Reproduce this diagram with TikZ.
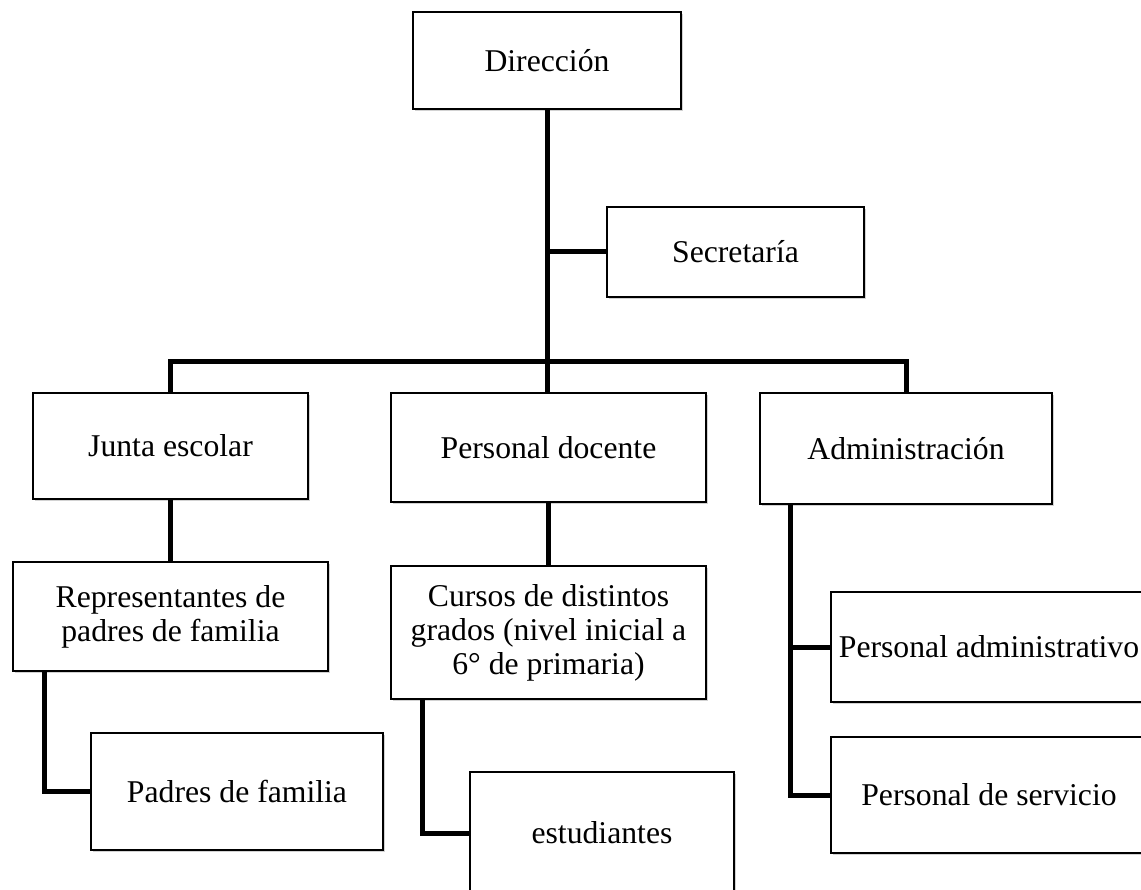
\documentclass[tikz,border=0pt]{standalone}
\usepackage{fontspec}
\setmainfont{Liberation Serif}
\usetikzlibrary{calc,shadows}
\tikzset{
  box/.style={draw=black, line width=1.5pt, fill=white, inner sep=0pt, align=center,
    font=\fontsize{31.7}{34}\selectfont,
    drop shadow={shadow xshift=1.5pt, shadow yshift=-2pt, opacity=0.35, fill=gray}},
  conn/.style={line width=5pt, black}
}
\begin{document}
\begin{tikzpicture}[x=1pt,y=-1pt]
\useasboundingbox (0,0) rectangle (1141,890);
\clip (0,0) rectangle (1141,890);
\fill[white] (0,0) rectangle (1141,890);
% boxes
\node[box, minimum width=268pt, minimum height=97pt] (dir) at (547,60.5) {Dirección};
\node[box, minimum width=257pt, minimum height=90pt] (sec) at (735.5,252) {Secretaría};
\node[box, minimum width=275pt, minimum height=106pt] (junta) at (170.5,446) {Junta escolar};
\node[box, minimum width=315pt, minimum height=109pt] (doc) at (548.5,447.5) {Personal docente};
\node[box, minimum width=292pt, minimum height=111pt] (adm) at (906,448.5) {Administración};
\node[box, minimum width=315pt, minimum height=109pt] (rep) at (170.5,616.5) {Representantes de\\padres de familia};
\node[box, minimum width=315pt, minimum height=133pt] (cur) at (548.5,632.5) {Cursos de distintos\\grados (nivel inicial a\\6° de primaria)};
\node[box, minimum width=292pt, minimum height=117pt] (padres) at (237,791.5) {Padres de familia};
\node[box, minimum width=264pt, minimum height=122pt] (est) at (602,833) {estudiantes};
\node[box, minimum width=316pt, minimum height=110pt] (padm) at (989,647) {Personal administrativo};
\node[box, minimum width=316pt, minimum height=116pt] (pser) at (989,795) {Personal de servicio};
% connectors
\coordinate (bar) at (548,362);
\draw[conn] (dir.south) -- (dir.south |- doc.north);
\draw[conn] (dir.south |- sec.west) -- (sec.west);
\draw[conn] (junta.north) |- (bar) -| (adm.north);
\draw[conn] (junta.south) -- (rep.north);
\draw[conn] (doc.south) -- (cur.north);
\coordinate (rl) at ($(rep.south west)+(32,0)$);
\draw[conn] (rl) |- (padres.west);
\coordinate (cl) at ($(cur.south west)+(32,0)$);
\draw[conn] (cl) |- (est.west);
\coordinate (al) at ($(adm.south west)+(31,0)$);
\draw[conn] (al) |- (pser.west);
\draw[conn] (al |- padm.west) -- (padm.west);
\end{tikzpicture}
\end{document}
